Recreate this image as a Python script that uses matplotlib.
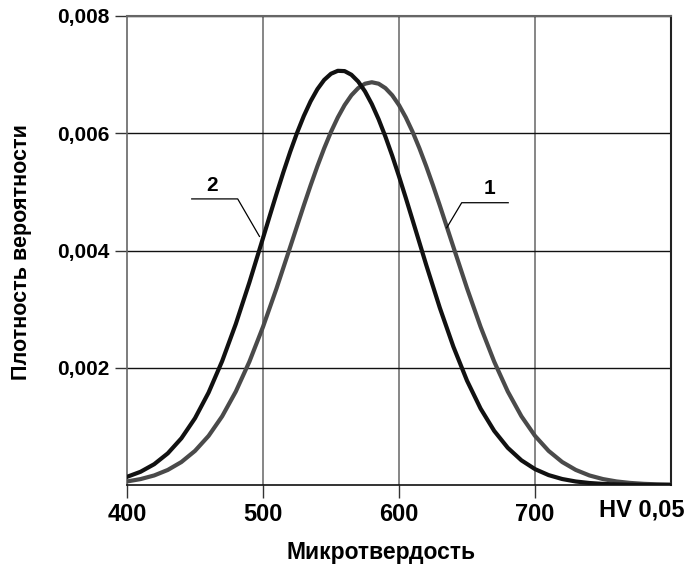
import matplotlib
matplotlib.use("Agg")
import matplotlib.pyplot as plt

plt.rcParams['font.family'] = ['Liberation Sans', 'DejaVu Sans']

# Microhardness values (HV 0,05) and read-off densities
x1_vals = [400, 410, 420, 430, 440, 450, 460, 470, 480, 490, 500, 510, 520, 530,
           535, 540, 545, 550, 555, 560, 565, 570, 575, 580, 585, 590, 595, 600,
           605, 610, 615, 620, 625, 630, 640, 650, 660, 670,
           680, 690, 700, 710, 720, 730, 740, 750, 760, 770, 780, 790, 800]

# Curve 1 (grey) probability density
curve1 = [0.0000605, 0.000101, 0.000163, 0.000257, 0.000392, 0.000582, 0.000838,
          0.001173, 0.001594, 0.002104, 0.002697, 0.003357, 0.004060, 0.004768,
          0.005111, 0.005438, 0.005744, 0.006024, 0.006270, 0.006480, 0.006648,
          0.006770, 0.006845, 0.006870, 0.006845, 0.006770, 0.006648, 0.006480,
          0.006270, 0.006024, 0.005744, 0.005438, 0.005111, 0.004768, 0.004060,
          0.003357, 0.002697, 0.002104,
          0.001594, 0.001173, 0.000838, 0.000582, 0.000392, 0.000257, 0.000163,
          0.000101, 0.0000605, 0.0000352, 0.0000199, 0.000011, 0.000006]

x2_vals = [400, 410, 420, 430, 440, 450, 460, 470, 480, 490, 500, 505, 510, 515,
           520, 525, 530, 535, 540, 545, 550, 555, 560, 565, 570, 575, 580, 585,
           590, 595, 600, 605, 610, 620, 630, 640, 650, 660, 670,
           680, 690, 700, 710, 720, 730, 740, 750, 760, 770, 780, 790, 800]

# Curve 2 (black) probability density
curve2 = [0.000139, 0.000226, 0.000355, 0.000540, 0.000797, 0.001139, 0.001577,
          0.002115, 0.002747, 0.003456, 0.004212, 0.004594, 0.004972, 0.005337,
          0.005684, 0.006005, 0.006294, 0.006545, 0.006752, 0.006910, 0.007015,
          0.007065, 0.007060, 0.006998, 0.006882, 0.006714, 0.006498, 0.006239,
          0.005943, 0.005617, 0.005265, 0.004897, 0.004518, 0.003755, 0.003023,
          0.002358, 0.001780, 0.001303, 0.000923,
          0.000634, 0.000421, 0.000271, 0.000169, 0.000102, 0.0000598, 0.000034,
          0.0000187, 0.00001, 0.000005, 0.0000025, 0.000001, 0.0000005]

x_ticks = [400, 500, 600, 700]
x_tick_labels = ['400', '500', '600', '700']
y_ticks = [0.002, 0.004, 0.006, 0.008]
y_tick_labels = ['0,002', '0,004', '0,006', '0,008']

W, H = 686, 569
fig = plt.figure(figsize=(W / 100, H / 100), dpi=100)
ax = fig.add_axes([127/W, 1 - 485/H, (671 - 127)/W, (485 - 16)/H])

ax.set_xlim(400, 800)
ax.set_ylim(0, 0.008)

# grid
for xv in x_ticks[1:]:
    ax.axvline(xv, color='#666666', lw=1.1, zorder=1)
for yv in y_ticks:
    ax.axhline(yv, color='#111111', lw=1.0, zorder=1)

ax.plot(x1_vals, curve1, color='#4a4a4a', lw=3.0, zorder=3, solid_joinstyle='round')
ax.plot(x2_vals, curve2, color='#111111', lw=3.0, zorder=4, solid_joinstyle='round')

ax.set_xticks(x_ticks)
ax.set_xticklabels(x_tick_labels, fontsize=17, fontweight='bold')
ax.set_yticks(y_ticks)
ax.set_yticklabels(y_tick_labels, fontsize=15, fontweight='bold')
ax.tick_params(axis='both', direction='out', length=9, width=1.0, color='#333333')
ax.tick_params(axis='x', pad=4)
ax.tick_params(axis='y', pad=3.5)

ax.spines['left'].set_color('#666666')
ax.spines['left'].set_linewidth(1.2)
ax.spines['bottom'].set_color('#111111')
ax.spines['bottom'].set_linewidth(1.2)
ax.spines['top'].set_color('#666666')
ax.spines['top'].set_linewidth(1.5)
ax.spines['right'].set_color('#222222')
ax.spines['right'].set_linewidth(1.5)

fig.text(381/W, 1 - 553/H, 'Микротвердость', fontsize=16.5, fontweight='bold',
         ha='center', va='center')
fig.text(22/W, 1 - 252/H, 'Плотность вероятности', fontsize=15.5, fontweight='bold',
         ha='center', va='center', rotation=90)
fig.text(642/W, 1 - 510/H, 'HV 0,05', fontsize=17, fontweight='bold',
         ha='center', va='center')

# curve labels with leader lines
ax.text(462.5, 0.00511, '2', fontsize=15, fontweight='bold', ha='center', va='center')
ax.plot([447.6, 481.4, 497.4], [0.00488, 0.00488, 0.00424], color='black', lw=0.9, zorder=5)
ax.text(666.2, 0.00506, '1', fontsize=15, fontweight='bold', ha='center', va='center')
ax.plot([680.3, 646.1, 635.1], [0.004815, 0.004815, 0.004388], color='black', lw=0.9, zorder=5)

fig.savefig('out.png', dpi=100)
